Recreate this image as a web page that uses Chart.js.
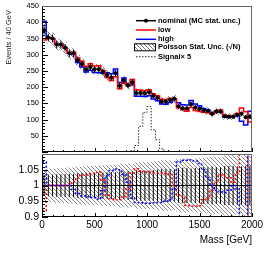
<!DOCTYPE html>
<html>
<head>
<meta charset="utf-8">
<script src="https://cdn.jsdelivr.net/npm/chart.js@4.4.0/dist/chart.umd.min.js"></script>
<style>
  body { margin: 0; background: #fff; width: 266px; height: 258px; overflow: hidden; position: relative; }
  #top { position: absolute; left: 0; top: 0; }
  #bot { position: absolute; left: 0; top: 151px; }
</style>
</head>
<body>
<canvas id="top" width="266" height="156"></canvas>
<canvas id="bot" width="266" height="107"></canvas>
<script>
// 50 bins of 40 GeV from 0 to 2000
const binEdges = Array.from({ length: 51 }, (_, i) => i * 40);

// nominal MC (events / 40 GeV)
const nominal = [375, 353, 350, 331, 331, 321, 304, 304, 283, 271,
                 255, 262, 255, 255, 247, 237, 230, 243, 204, 220,
                 206, 215, 182, 182, 181, 184, 173, 167, 156, 155,
                 160, 164, 141, 135, 134, 147, 137, 133, 128, 126,
                 118, 125, 125, 110, 109, 109, 114, 118, 107, 109];

// MC stat. uncertainty on nominal
const mcErr = [12.5, 12.2, 12.1, 11.8, 11.8, 11.6, 11.3, 11.3, 11.0, 10.7,
               10.4, 10.5, 10.4, 10.4, 10.2, 10.0, 9.9, 10.1, 9.3, 9.6,
               9.3, 9.5, 8.8, 8.8, 8.7, 8.8, 8.5, 8.4, 8.1, 8.1,
               8.2, 8.3, 7.7, 7.6, 7.5, 7.9, 7.6, 7.5, 7.4, 7.3,
               7.1, 7.3, 7.3, 6.8, 6.8, 6.8, 6.9, 7.1, 6.7, 6.8];

// variations / nominal (read from the ratio pad)
const highRatio = [1.075, 1, 1, 1, 1, 1, 1, 0.988, 0.975, 0.967,
                   0.967, 0.962, 0.962, 0.957, 0.983, 1.03, 1.048, 1.052, 1.05, 1.035,
                   1.01, 0.96, 0.946, 0.945, 0.944, 0.944, 0.945, 0.946, 0.946, 0.95,
                   0.955, 0.99, 1.075, 1.08, 1.08, 1.082, 1.078, 1.07, 1.05, 1.025,
                   1.0, 0.985, 0.98, 0.978, 0.985, 1.0, 0.99, 0.8, 0.78, 1.15];
const lowRatio = [0.92, 1, 1, 1, 1, 1, 1, 1.012, 1.025, 1.033,
                  1.033, 1.038, 1.038, 1.043, 1.017, 0.97, 0.958, 0.955, 0.955, 0.965,
                  0.99, 1.04, 1.053, 1.045, 1.043, 1.042, 1.04, 1.04, 1.04, 1.038,
                  1.035, 1.0, 0.97, 0.965, 0.937, 0.935, 0.935, 0.936, 0.955, 0.96,
                  0.985, 1.01, 1.033, 1.03, 1.025, 1.01, 1.04, 1.15, 1.16, 0.85];

// signal x 5
const signalX5 = [0, 0, 0, 0, 0, 0, 0, 0, 0, 0,
                  0, 0, 0, 0, 0, 0, 0, 0, 0, 0,
                  0, 4, 20, 79, 122, 140, 68, 38, 10, 0,
                  0, 0, 0, 0, 0, 0, 0, 0, 0, 0,
                  0, 0, 0, 0, 0, 0, 0, 0, 0, 0];

const FONT = '"Liberation Sans", Arial, Helvetica, sans-serif';

const high = nominal.map((v, i) => v * highRatio[i]);
const low = nominal.map((v, i) => v * lowRatio[i]);

// histogram outline: left edge of each bin + closing point
function steps(vals) {
  return vals.map((v, i) => ({ x: binEdges[i], y: v })).concat([{ x: binEdges[vals.length], y: vals[vals.length - 1] }]);
}
// markers at bin centres
function centres(vals) {
  return vals.map((v, i) => ({ x: (binEdges[i] + binEdges[i + 1]) / 2, y: v }));
}
// x error (bin width) and y error bars as broken segments
function errSegs(vals, errs) {
  const out = [];
  vals.forEach((v, i) => {
    const c = (binEdges[i] + binEdges[i + 1]) / 2;
    out.push({ x: binEdges[i], y: v }, { x: binEdges[i + 1], y: v }, { x: binEdges[i + 1], y: null });
    out.push({ x: c, y: v - errs[i] }, { x: c, y: v + errs[i] }, { x: c, y: null });
  });
  return out;
}

function hatch(color) {
  const c = document.createElement('canvas');
  c.width = 4; c.height = 4;
  const g = c.getContext('2d');
  g.strokeStyle = color;
  g.lineWidth = 1;
  g.beginPath();
  g.moveTo(-1, -1); g.lineTo(5, 5);
  g.moveTo(-1, 3); g.lineTo(1, 5);
  g.moveTo(3, -1); g.lineTo(5, 1);
  g.stroke();
  return g.createPattern(c, 'repeat');
}

// ROOT style frame + inward ticks
function frameTicks(opt) {
  return {
    id: 'frameTicks',
    afterDraw(chart) {
      const { ctx, chartArea: a, scales: { x, y } } = chart;
      ctx.save();
      ctx.strokeStyle = '#000';
      ctx.lineWidth = 1;
      ctx.beginPath();
      let n = Math.round((y.max - y.min) / opt.yMinor);
      for (let k = 0; k <= n; k++) {
        const v = y.min + k * opt.yMinor;
        const py = Math.round(y.getPixelForValue(v)) + 0.5;
        const major = Math.abs(((v - y.min) / opt.yMajor) - Math.round((v - y.min) / opt.yMajor)) < 1e-6;
        ctx.moveTo(a.left, py);
        ctx.lineTo(a.left + (major ? opt.yMajLen : opt.yMinLen), py);
      }
      n = Math.round((x.max - x.min) / opt.xMinor);
      for (let k = 0; k <= n; k++) {
        const v = x.min + k * opt.xMinor;
        const px = Math.round(x.getPixelForValue(v)) + 0.5;
        const major = (v % opt.xMajor) === 0;
        ctx.moveTo(px, a.bottom);
        ctx.lineTo(px, a.bottom - (major ? opt.xMajLen : opt.xMinLen));
      }
      ctx.stroke();
      // left + bottom axis lines
      ctx.beginPath();
      ctx.moveTo(Math.round(a.left) + 0.5, a.top);
      ctx.lineTo(Math.round(a.left) + 0.5, a.bottom);
      ctx.moveTo(a.left, Math.round(a.bottom) - 0.5);
      ctx.lineTo(a.right, Math.round(a.bottom) - 0.5);
      ctx.stroke();
      // top + right frame
      ctx.strokeStyle = '#666';
      ctx.beginPath();
      ctx.moveTo(a.left, Math.round(a.top) + 0.5);
      ctx.lineTo(a.right, Math.round(a.top) + 0.5);
      ctx.moveTo(Math.round(a.right) - 0.5, a.top);
      ctx.lineTo(Math.round(a.right) - 0.5, a.bottom);
      ctx.stroke();
      ctx.restore();
    }
  };
}

const legendPlugin = {
  id: 'rootLegend',
  afterDraw(chart) {
    const ctx = chart.ctx;
    const x0 = 136, x1 = 156, tx = 158;
    const rows = [20.7, 30, 39.3, 47.3, 56.7];
    ctx.save();
    ctx.lineWidth = 1.5;
    // nominal
    ctx.strokeStyle = '#000';
    ctx.beginPath(); ctx.moveTo(x0, rows[0]); ctx.lineTo(x1, rows[0]); ctx.stroke();
    ctx.fillStyle = '#000';
    ctx.beginPath(); ctx.arc((x0 + x1) / 2, rows[0], 2, 0, Math.PI * 2); ctx.fill();
    // low
    ctx.strokeStyle = '#ff0000';
    ctx.beginPath(); ctx.moveTo(x0, rows[1]); ctx.lineTo(x1, rows[1]); ctx.stroke();
    // high
    ctx.strokeStyle = '#0000ff';
    ctx.beginPath(); ctx.moveTo(x0, rows[2]); ctx.lineTo(x1, rows[2]); ctx.stroke();
    // poisson box
    ctx.fillStyle = hatch('#777');
    ctx.fillRect(134, rows[3] - 3.5, 21, 7);
    ctx.lineWidth = 1;
    ctx.strokeStyle = '#000';
    ctx.strokeRect(134.5, rows[3] - 3.5, 21, 7);
    // signal
    ctx.setLineDash([1.5, 1.5]);
    ctx.strokeStyle = '#333';
    ctx.beginPath(); ctx.moveTo(x0, rows[4]); ctx.lineTo(x1, rows[4]); ctx.stroke();
    ctx.setLineDash([]);
    // labels
    ctx.fillStyle = '#000';
    ctx.font = 'bold 7.5px ' + FONT;
    ctx.textAlign = 'left';
    ctx.textBaseline = 'middle';
    const labels = ['nominal (MC stat. unc.)', 'low', 'high', 'Poisson Stat. Unc. (\u221AN)', 'Signal\u00D7 5'];
    labels.forEach((t, i) => ctx.fillText(t, tx, rows[i]));
    // y title
    ctx.font = '7.5px ' + FONT;
    ctx.fillStyle = '#222';
    ctx.translate(9, 10);
    ctx.rotate(-Math.PI / 2);
    ctx.textAlign = 'right';
    ctx.fillText('Events / 40 GeV', 0, 0);
    ctx.restore();
  }
};

const band = hatch('#888');

function fixY(s) { s.width = 42; s.paddingTop = 0; s.paddingBottom = 0; }

new Chart(document.getElementById('top'), {
  type: 'line',
  data: {
    datasets: [
      { label: 'nominal', data: centres(nominal), showLine: false, pointRadius: 2,
        pointBackgroundColor: '#000', pointBorderWidth: 0, order: 0 },
      { label: 'nomErr', data: errSegs(nominal, mcErr), borderColor: '#000', borderWidth: 1,
        pointRadius: 0, spanGaps: false, order: 1 },
      { label: 'low', data: steps(low), stepped: true, borderColor: '#ff0000', borderWidth: 1.5,
        pointRadius: 0, order: 2 },
      { label: 'high', data: steps(high), stepped: true, borderColor: '#0000ff', borderWidth: 1.5,
        pointRadius: 0, order: 3 },
      { label: 'signal', data: steps(signalX5), stepped: true, borderColor: '#333', borderWidth: 1,
        borderDash: [1.5, 1.5], pointRadius: 0, order: 4 },
      { label: 'bandHi', data: steps(nominal.map(v => v + Math.sqrt(v))), stepped: true, borderWidth: 0,
        pointRadius: 0, fill: '+1', backgroundColor: band, order: 5 },
      { label: 'bandLo', data: steps(nominal.map(v => v - Math.sqrt(v))), stepped: true, borderWidth: 0,
        pointRadius: 0, order: 6 }
    ]
  },
  options: {
    responsive: false,
    animation: false,
    devicePixelRatio: 1,
    events: [],
    layout: { padding: { top: 6, bottom: 2, left: 0, right: 14 } },
    plugins: { legend: { display: false }, tooltip: { enabled: false } },
    scales: {
      x: { type: 'linear', min: 0, max: 2000, display: false, offset: false },
      y: {
        min: 0, max: 450,
        ticks: { stepSize: 50, autoSkip: false, padding: 3, color: '#000',
                 font: { size: 7.5, family: FONT }, callback: v => (v === 0 ? '' : String(v)) },
        grid: { display: false, drawTicks: false },
        border: { display: false },
        afterFit: fixY
      }
    }
  },
  plugins: [frameTicks({ yMinor: 10, yMajor: 50, yMajLen: 6, yMinLen: 3, xMinor: 100, xMajor: 500, xMajLen: 4, xMinLen: 2 }), legendPlugin]
});

new Chart(document.getElementById('bot'), {
  type: 'line',
  data: {
    datasets: [
      { label: 'high/nom', data: steps(highRatio), stepped: true, borderColor: '#0000ff', borderWidth: 1.5,
        borderDash: [2, 2], pointRadius: 0, order: 0 },
      { label: 'low/nom', data: steps(lowRatio), stepped: true, borderColor: '#ff0000', borderWidth: 1.5,
        borderDash: [2, 2], pointRadius: 0, order: 1 },
      { label: 'nomErr', data: errSegs(nominal.map(() => 1), mcErr.map((e, i) => e / nominal[i])),
        borderColor: '#000', borderWidth: 1, pointRadius: 0, spanGaps: false, order: 2 },
      { label: 'bandHi', data: steps(nominal.map(v => 1 + 1 / Math.sqrt(v))), stepped: true, borderWidth: 0,
        pointRadius: 0, fill: '+1', backgroundColor: band, order: 3 },
      { label: 'bandLo', data: steps(nominal.map(v => 1 - 1 / Math.sqrt(v))), stepped: true, borderWidth: 0,
        pointRadius: 0, order: 4 }
    ]
  },
  options: {
    responsive: false,
    animation: false,
    devicePixelRatio: 1,
    events: [],
    layout: { padding: { top: 3, bottom: 0, left: 0, right: 14 } },
    plugins: { legend: { display: false }, tooltip: { enabled: false } },
    scales: {
      x: {
        type: 'linear', min: 0, max: 2000, offset: false,
        ticks: { stepSize: 500, autoSkip: false, maxRotation: 0, padding: 2, color: '#000',
                 font: { size: 10, family: FONT }, callback: v => String(v) },
        grid: { display: false, drawTicks: false },
        border: { display: false },
        title: { display: true, text: 'Mass [GeV]', align: 'end', color: '#000',
                 font: { size: 10, family: FONT }, padding: { top: 0, bottom: 12 } },
        afterFit: s => { s.height = 41; s.paddingLeft = 0; s.paddingRight = 0; }
      },
      y: {
        min: 0.9, max: 1.1,
        ticks: { stepSize: 0.05, autoSkip: false, padding: 3, color: '#000',
                 font: { size: 10.5, family: FONT },
                 callback: v => (Math.abs(v - 1.1) < 1e-6 ? '' : String(+v.toFixed(2))) },
        grid: { display: false, drawTicks: false },
        border: { display: false },
        afterFit: fixY
      }
    }
  },
  plugins: [frameTicks({ yMinor: 0.01, yMajor: 0.05, yMajLen: 6, yMinLen: 3, xMinor: 100, xMajor: 500, xMajLen: 4, xMinLen: 2 })]
});
</script>
</body>
</html>
